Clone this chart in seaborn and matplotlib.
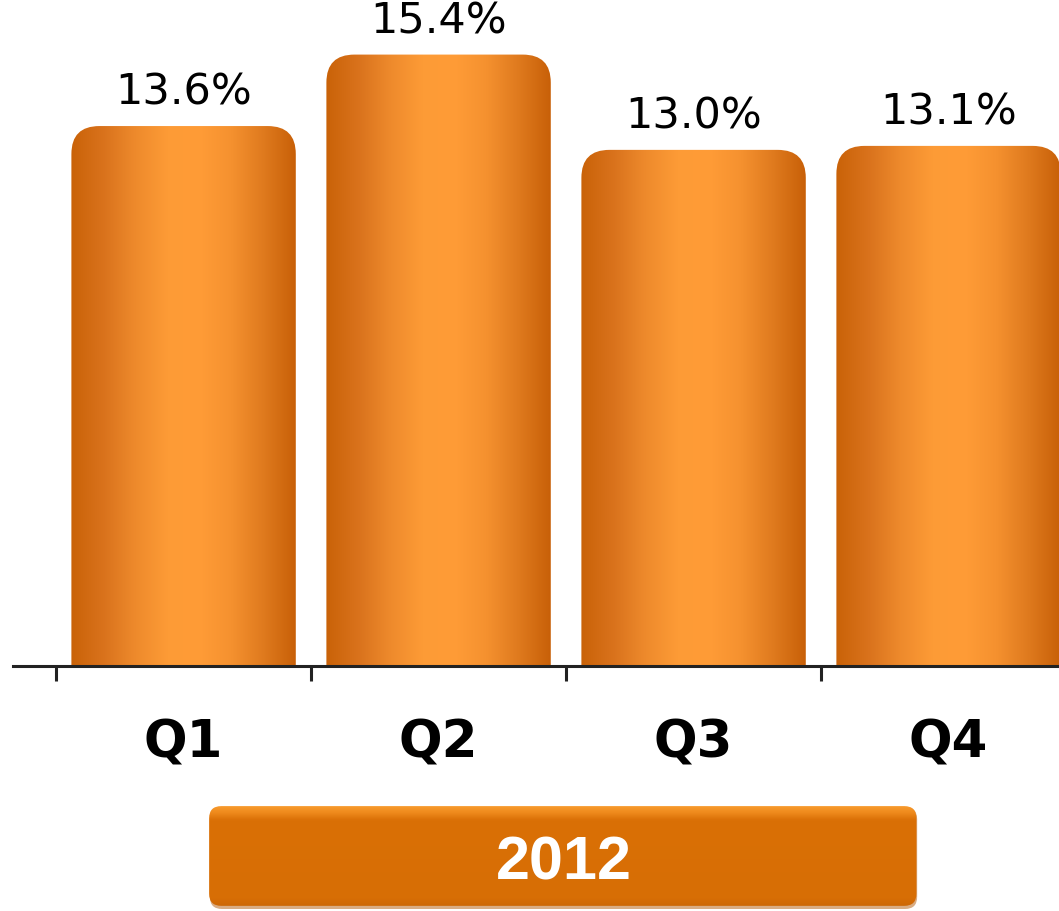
import numpy as np
import matplotlib
matplotlib.use("Agg")
import matplotlib.pyplot as plt
import seaborn as sns
from matplotlib.colors import LinearSegmentedColormap
from matplotlib.patches import FancyBboxPatch

# data
quarters = ["Q1", "Q2", "Q3", "Q4"]
values = [13.6, 15.4, 13.0, 13.1]
labels = ["13.6%", "15.4%", "13.0%", "13.1%"]
year = "2012"

sns.set_style("white")
plt.rcParams["font.family"] = ["DejaVu Sans"]

fig = plt.figure(figsize=(10.59, 9.12), dpi=100)
ax = fig.add_axes([13 / 1059, 245 / 912, 1 - 13 / 1059, 667 / 912])

sns.barplot(x=quarters, y=values, width=0.88, color="#F08C2E", ax=ax)

# cylinder-like shading across each bar
bar_cmap = LinearSegmentedColormap.from_list(
    "bar", ["#C96208", "#D9721C", "#EE8A2C", "#FD9B36", "#FF9C37",
            "#F5912F", "#DF7A1E", "#C86008"])
grad = np.linspace(0, 1, 256).reshape(1, -1)

ymax = 16.8
for p, lab in zip(ax.patches, labels):
    x0, w, h = p.get_x(), p.get_width(), p.get_height()
    p.set_visible(False)
    r = 0.11
    box = FancyBboxPatch((x0, -3), w, h + 3,
                         boxstyle=f"round,pad=0,rounding_size={r}",
                         mutation_aspect=6.4, facecolor="none",
                         edgecolor="none", transform=ax.transData)
    ax.add_patch(box)
    im = ax.imshow(grad, extent=[x0, x0 + w, 0, h], aspect="auto",
                   cmap=bar_cmap, zorder=2, interpolation="bicubic")
    im.set_clip_path(box)
    ax.annotate(lab, (x0 + w / 2, h), xytext=(0, 16),
                textcoords="offset points", ha="center", va="baseline",
                fontsize=31, color="black")

ax.set_xlim(-0.669, 3.433)
ax.set_ylim(0, ymax)
ax.set_ylabel("")
ax.set_yticks([])

for s in ["top", "right", "left"]:
    ax.spines[s].set_visible(False)
ax.spines["bottom"].set_linewidth(2.2)
ax.spines["bottom"].set_color("#222222")
ax.spines["bottom"].set_zorder(5)

ax.set_xticks(range(len(quarters)))
ax.set_xticklabels(quarters, fontsize=37, fontweight="bold", color="black")
ax.set_xticks([-0.5, 0.5, 1.5, 2.5], minor=True)
ax.tick_params(axis="x", which="major", length=0, pad=37)
ax.tick_params(axis="x", which="minor", length=11, width=2.2,
               color="#222222", direction="out", bottom=True)

# year banner below the quarters
bax = fig.add_axes([207 / 1059, 2 / 912, 713 / 1059, 105 / 912])
bax.set_axis_off()
bax.set_xlim(0, 1)
bax.set_ylim(0, 1)
shadow = FancyBboxPatch((0.004, 0.0), 0.992, 0.97,
                        boxstyle="round,pad=0,rounding_size=0.017",
                        mutation_aspect=6.8, facecolor="#B45A08",
                        edgecolor="none", alpha=0.5, zorder=1)
bax.add_patch(shadow)
banner = FancyBboxPatch((0.003, 0.03), 0.992, 0.95,
                        boxstyle="round,pad=0,rounding_size=0.017",
                        mutation_aspect=6.8, facecolor="none",
                        edgecolor="none")
bax.add_patch(banner)
vcmap = LinearSegmentedColormap.from_list(
    "ban", [(0, "#C86406"), (0.1, "#D76E05"), (0.85, "#DA7006"),
            (0.92, "#EF8A1C"), (1, "#FBA033")])
vg = np.linspace(0, 1, 256).reshape(-1, 1)
bim = bax.imshow(vg, extent=[0, 1, 0, 1], origin="lower", aspect="auto",
                 cmap=vcmap, interpolation="bicubic", vmin=0, vmax=1,
                 zorder=2)
bim.set_clip_path(banner)
bax.text(0.5, 0.44, year, ha="center", va="center", color="white",
         fontsize=44, fontweight="bold", family="Liberation Sans", zorder=3)

fig.savefig("out.png", dpi=100)
